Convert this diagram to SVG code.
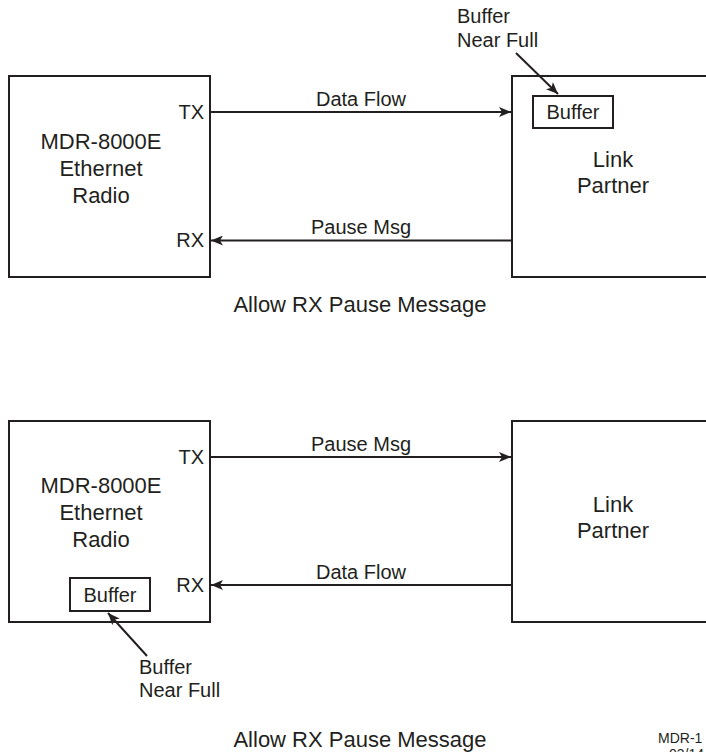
<svg xmlns="http://www.w3.org/2000/svg" width="706" height="752" viewBox="0 0 706 752">
<style>
  .box{fill:#fff;stroke:#231f20;stroke-width:2}
  .ln{fill:none;stroke:#231f20;stroke-width:2}
  .t{font-family:"Liberation Sans",Arial,sans-serif;fill:#231f20}
  .big{font-size:22px}
  .mid{font-size:20px}
</style>
<defs>
  <marker id="ah" viewBox="0 0 12 10" refX="12" refY="5" markerWidth="12" markerHeight="10" markerUnits="userSpaceOnUse" orient="auto">
    <path d="M0,0 L12,5 L0,10 L3,5 Z" fill="#231f20"/>
  </marker>
</defs>
<rect width="706" height="752" fill="#fff"/>

<g id="top-radio">
  <rect class="box" x="9" y="76" width="201" height="201"/>
  <text class="t big" x="101" y="149" text-anchor="middle">MDR-8000E</text>
  <text class="t big" x="101" y="176" text-anchor="middle">Ethernet</text>
  <text class="t big" x="101" y="203" text-anchor="middle">Radio</text>
  <text class="t mid" x="204" y="119" text-anchor="end">TX</text>
  <text class="t mid" x="204" y="247" text-anchor="end">RX</text>
</g>
<g id="top-partner">
  <rect class="box" x="512" y="76" width="210" height="201"/>
  <text class="t big" x="613" y="167" text-anchor="middle">Link</text>
  <text class="t big" x="613" y="193" text-anchor="middle">Partner</text>
</g>
<g id="top-buffer">
  <rect class="box" x="533" y="96" width="80" height="32"/>
  <text class="t mid" x="573" y="119" text-anchor="middle">Buffer</text>
</g>
<g id="top-note">
  <text class="t mid" x="457" y="23">Buffer</text>
  <text class="t mid" x="457" y="47">Near Full</text>
</g>
<text class="t big" x="360" y="312" text-anchor="middle">Allow RX Pause Message</text>

<g id="bot-radio">
  <rect class="box" x="9" y="421" width="201" height="201"/>
  <text class="t big" x="101" y="493" text-anchor="middle">MDR-8000E</text>
  <text class="t big" x="101" y="520" text-anchor="middle">Ethernet</text>
  <text class="t big" x="101" y="547" text-anchor="middle">Radio</text>
  <text class="t mid" x="204" y="464" text-anchor="end">TX</text>
  <text class="t mid" x="204" y="592" text-anchor="end">RX</text>
</g>
<g id="bot-buffer">
  <rect class="box" x="70" y="578" width="80" height="33"/>
  <text class="t mid" x="110" y="602" text-anchor="middle">Buffer</text>
</g>
<g id="bot-partner">
  <rect class="box" x="512" y="421" width="210" height="201"/>
  <text class="t big" x="613" y="512" text-anchor="middle">Link</text>
  <text class="t big" x="613" y="538" text-anchor="middle">Partner</text>
</g>
<g id="bot-note">
  <text class="t mid" x="139" y="674">Buffer</text>
  <text class="t mid" x="139" y="697">Near Full</text>
</g>
<text class="t big" x="360" y="747" text-anchor="middle">Allow RX Pause Message</text>
<text class="t" font-size="14" x="658" y="743">MDR-1</text>
<text class="t" font-size="14" x="669" y="759">03/14</text>

<g id="connectors">
  <line class="ln" x1="210" y1="112" x2="511" y2="112" marker-end="url(#ah)"/>
  <line class="ln" x1="512" y1="240.5" x2="211" y2="240.5" marker-end="url(#ah)"/>
  <line class="ln" x1="516" y1="53" x2="558" y2="94" marker-end="url(#ah)"/>
  <line class="ln" x1="210" y1="457" x2="511" y2="457" marker-end="url(#ah)"/>
  <line class="ln" x1="512" y1="585" x2="211" y2="585" marker-end="url(#ah)"/>
  <line class="ln" x1="147" y1="656" x2="108" y2="613" marker-end="url(#ah)"/>
</g>
<g id="conn-labels">
  <text class="t mid" x="361" y="106" text-anchor="middle">Data Flow</text>
  <text class="t mid" x="361" y="234" text-anchor="middle">Pause Msg</text>
  <text class="t mid" x="361" y="451" text-anchor="middle">Pause Msg</text>
  <text class="t mid" x="361" y="579" text-anchor="middle">Data Flow</text>
</g>
</svg>
